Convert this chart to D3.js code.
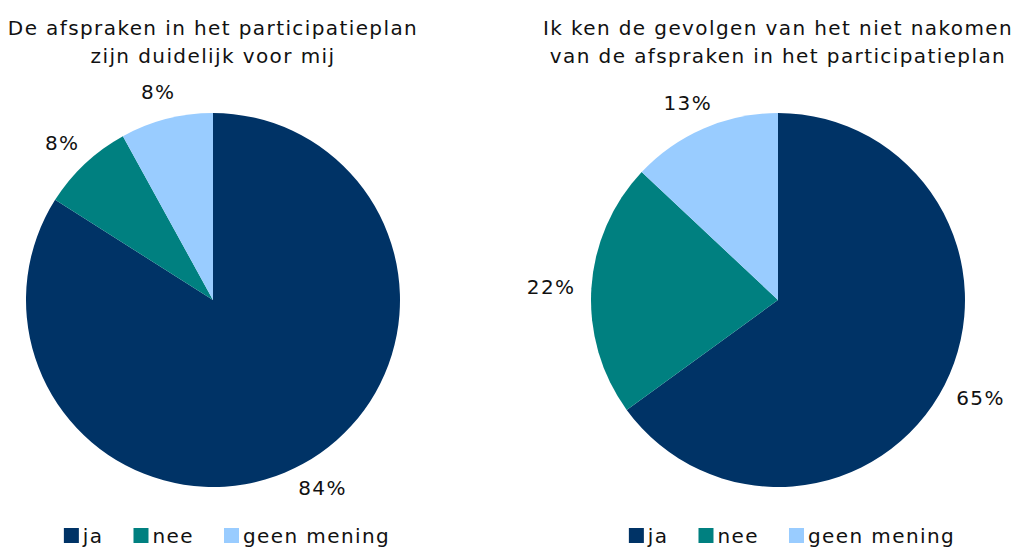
<!DOCTYPE html>
<html lang="nl">
    <head>
        <meta charset="utf-8">
        <title>Participatieplan</title>
        <script src="https://d3js.org/d3.v7.min.js"></script>
        <style>
            body {
                margin: 0;
                background: white;
            }
            text {
                font-family: "DejaVu Sans", Verdana, sans-serif;
                fill: #111;
                letter-spacing: 1.4px;
            }
        </style>
    </head>
    <body>
        <script type="text/javascript">

            var width = 1022;
            var height = 548;

            var categories = ["ja", "nee", "geen mening"];
            var colors = ["#003366", "#008080", "#99ccff"];

            var titlesLeft = ["De afspraken in het participatieplan", "zijn duidelijk voor mij"];
            var titlesRight = ["Ik ken de gevolgen van het niet nakomen", "van de afspraken in het participatieplan"];

            var valuesLeft = [84, 8, 8];
            var valuesRight = [65, 22, 13];

            var charts = [
                { title: titlesLeft, values: valuesLeft, cx: 213 },
                { title: titlesRight, values: valuesRight, cx: 778 }
            ];

            var cy = 300;
            var radius = 187;
            var fontSize = 20;

            var svg = d3.select("body")
                        .append("svg")
                        .attr("width", width)
                        .attr("height", height);

            var color = d3.scaleOrdinal()
                          .domain(categories)
                          .range(colors);

            var pie = d3.pie()
                        .sort(null)
                        .value(d => d.value);

            var arc = d3.arc()
                        .innerRadius(0)
                        .outerRadius(radius);

            charts.forEach(function(c) {

                var data = categories.map((k, i) => ({ key: k, value: c.values[i] }));

                // title, two centered lines
                svg.append("text")
                    .attr("text-anchor", "middle")
                    .style("font-size", fontSize + "px")
                    .selectAll("tspan")
                    .data(c.title)
                    .enter()
                    .append("tspan")
                    .attr("x", c.cx)
                    .attr("y", (d, i) => 35 + i * 28)
                    .text(d => d);

                var g = svg.append("g")
                    .attr("transform", `translate(${c.cx},${cy})`);

                var arcs = pie(data);

                g.selectAll("path")
                    .data(arcs)
                    .enter()
                    .append("path")
                    .attr("d", arc)
                    .attr("fill", d => color(d.data.key));

                // labels outside the slice end
                g.selectAll("text.lbl")
                    .data(arcs)
                    .enter()
                    .append("text")
                    .attr("class", "lbl")
                    .attr("text-anchor", "middle")
                    .attr("dominant-baseline", "central")
                    .style("font-size", fontSize + "px")
                    .text(d => d.data.value + "%")
                    .each(function(d) {
                        var bb = this.getBBox();
                        var a = (d.startAngle + d.endAngle) / 2;
                        var s = Math.sin(a), co = -Math.cos(a);
                        var pr = radius + 16;
                        var x = pr * s + s * bb.width / 2;
                        var y = pr * co + co * bb.height / 2;
                        d3.select(this).attr("x", x).attr("y", y);
                    });

                // legend
                var lg = svg.append("g");
                var xpos = 0;
                categories.forEach(function(k) {
                    var item = lg.append("g").attr("transform", `translate(${xpos},0)`);
                    item.append("rect")
                        .attr("x", 0)
                        .attr("y", -15)
                        .attr("width", 15)
                        .attr("height", 15)
                        .attr("fill", color(k));
                    var t = item.append("text")
                        .attr("x", 19)
                        .attr("y", 0)
                        .style("font-size", fontSize + "px")
                        .text(k);
                    xpos += 19 + t.node().getComputedTextLength() + 30;
                });
                var lw = xpos - 30;
                lg.attr("transform", `translate(${c.cx + 14 - lw / 2},543)`);
            });

        </script>
    </body>
</html>
